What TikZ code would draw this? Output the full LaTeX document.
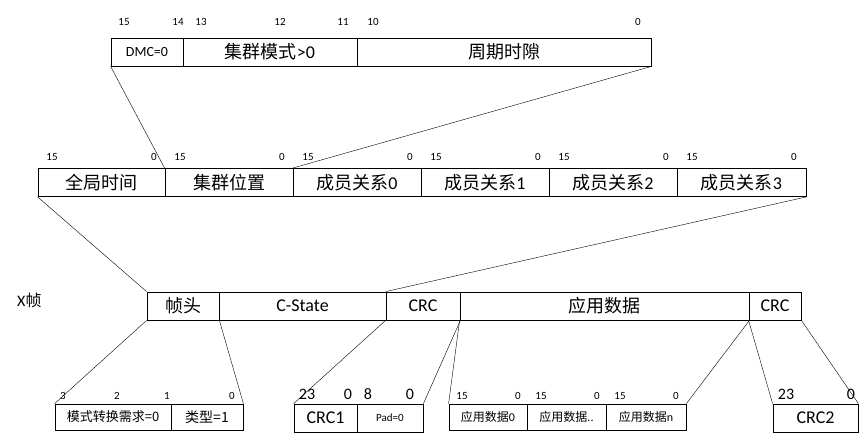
\documentclass[tikz,border=0pt]{standalone}
\usepackage{fontspec}
\setmainfont{Carlito}
\newfontfamily\cjk{Noto Sans CJK SC}
\tikzset{
  cell/.style = {draw, thick, inner sep = 0pt, minimum height = 28pt, font = \fontsize{18}{18}\selectfont},
  small/.style = {cell, minimum height = 26pt, font = \fontsize{12}{12}\selectfont},
  bit/.style = {inner sep = 0pt, font = \fontsize{11}{11}\selectfont},
  big/.style = {inner sep = 0pt, font = \fontsize{16}{16}\selectfont},
  link/.style = {thin}
}
\begin{document}
\begin{tikzpicture}[x = 1pt, y = -1pt]
    \useasboundingbox (0,0) rectangle (865,441);
    % top word
    \node [cell, minimum width = 72, font = \fontsize{14}{14}\selectfont] (dmc) at (147,52) {DMC=0};
    \node [cell, minimum width = 174] (mode) at (270,52) {{\cjk 集群模式}>0};
    \node [cell, minimum width = 294] (slot) at (504,52) {\cjk 周期时隙};
    \foreach \x/\t in {124/15, 178/14, 201/13, 280/12, 343/11, 373/10, 638/0}
      \node [bit] at (\x,22) {\t};

    % middle words
    \node [cell, minimum width = 127] (gt) at (101.5,182.5) {\cjk 全局时间};
    \node [cell, minimum width = 128] (pos) at (229,182.5) {\cjk 集群位置};
    \node [cell, minimum width = 128] (m0) at (357,182.5) {{\cjk 成员关系}0};
    \node [cell, minimum width = 128] (m1) at (485,182.5) {{\cjk 成员关系}1};
    \node [cell, minimum width = 128] (m2) at (613,182.5) {{\cjk 成员关系}2};
    \node [cell, minimum width = 129] (m3) at (741.5,182.5) {{\cjk 成员关系}3};
    \foreach \x in {0,128,256,384,512,640} {
      \node [bit] at (52+\x,157) {15};
      \node [bit] at (154+\x,157) {0};
    }

    % frame
    \node [big, anchor = west] (xf) at (17,300) {X{\cjk 帧}};
    \node [cell, minimum width = 72] (head) at (183,306) {\cjk 帧头};
    \node [cell, minimum width = 167] (cs) at (302.5,306) {C-State};
    \node [cell, minimum width = 74] (crc) at (423,306) {CRC};
    \node [cell, minimum width = 289] (app) at (604.5,306) {\cjk 应用数据};
    \node [cell, minimum width = 52] (crcb) at (775,306) {CRC};

    % header bits
    \node [small, minimum width = 116, font = \fontsize{13}{13}\selectfont\cjk] (mreq) at (113,417) {模式转换需求=0};
    \node [small, minimum width = 72, font = \fontsize{14}{14}\selectfont\cjk] (type) at (207,417) {类型=1};
    \foreach \x/\t in {63/3, 117/2, 167/1, 232/0}
      \node [bit] at (\x,396) {\t};

    % crc bits
    \node [cell, minimum width = 63, font = \fontsize{18}{18}\selectfont] (crc1) at (325.5,418) {CRC1};
    \node [cell, minimum width = 66, font = \fontsize{11}{11}\selectfont] (pad) at (390,418) {Pad=0};
    \foreach \x/\t in {307/23, 348/0, 368/8, 410/0}
      \node [big] at (\x,394) {\t};

    % application data
    \node [small, minimum width = 78, font = \fontsize{12}{12}\selectfont] (a0) at (488,417) {{\cjk 应用数据}0};
    \node [small, minimum width = 79, font = \fontsize{12}{12}\selectfont] (a1) at (566.5,417) {{\cjk 应用数据}..};
    \node [small, minimum width = 80, font = \fontsize{12}{12}\selectfont] (an) at (646,417) {{\cjk 应用数据}n};
    \foreach \x in {0,79,158} {
      \node [bit] at (462+\x,396) {15};
      \node [bit] at (518+\x,396) {0};
    }

    % second crc
    \node [cell, minimum width = 85, font = \fontsize{18}{18}\selectfont] (crc2) at (815.5,418) {CRC2};
    \node [big] at (786,394) {23};
    \node [big] at (851,394) {0};

    % draw links
    \draw [link] (dmc.south west) -- (pos.north west);
    \draw [link] (slot.south east) -- (m0.north west);
    \draw [link] (gt.south west) -- (head.north west);
    \draw [link] (m3.south east) -- (crc.north west);
    \draw [link] (head.south west) -- (mreq.north west);
    \draw [link] (head.south east) -- (type.north east);
    \draw [link] (crc.south west) -- (crc1.north west);
    \draw [link] (crc.south east) -- (pad.north east);
    \draw [link] (app.south west) -- (a0.north west);
    \draw [link] (app.south east) -- (an.north east);
    \draw [link] (crcb.south west) -- (crc2.north west);
    \draw [link] (crcb.south east) -- (crc2.north east);
\end{tikzpicture}
\end{document}
